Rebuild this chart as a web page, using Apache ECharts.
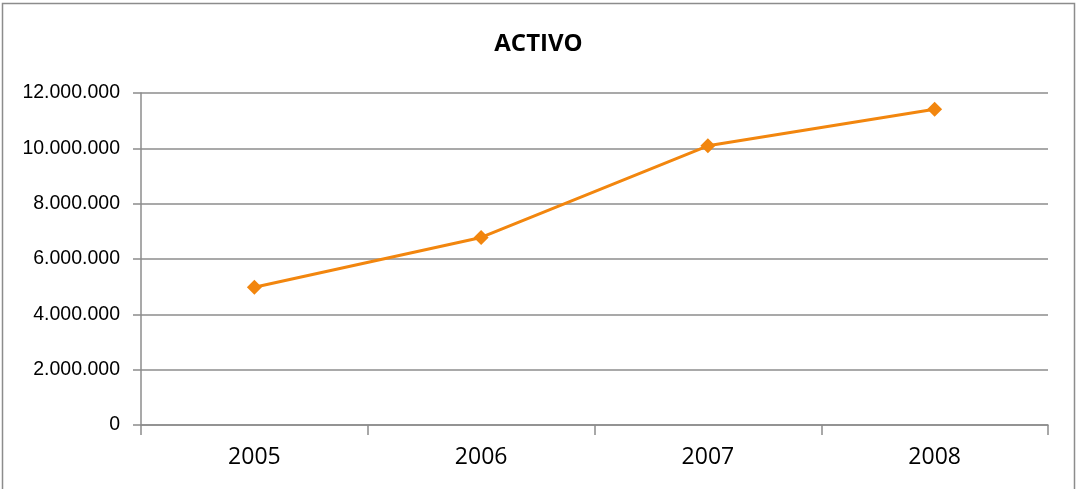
<!DOCTYPE html>
<html><head><meta charset="utf-8">
<script src="https://cdn.jsdelivr.net/npm/echarts@6/dist/echarts.min.js"></script>
<style>html,body{margin:0;padding:0;background:#fff}#c{width:1077px;height:489px}</style>
</head><body><div id="c"></div>
<script>
const categories = ['2005', '2006', '2007', '2008'];
const activo = [4980000, 6780000, 10090000, 11410000];
const yTicks = [0, 2000000, 4000000, 6000000, 8000000, 10000000, 12000000];

function fmt(v){ return String(v).replace(/\B(?=(\d{3})+(?!\d))/g, '.'); }

const chart = echarts.init(document.getElementById('c'), null, {renderer:'canvas'});
chart.setOption({
  animation:false,
  backgroundColor:'#fff',
  title:{text:'ACTIVO', left:'center', top:27, textStyle:{fontFamily:'Open Sans', fontWeight:'bold', fontSize:24, color:'#000'}},
  graphic:[{type:'rect', shape:{x:2.5,y:3.5,width:1072,height:490}, style:{fill:'none', stroke:'#8c8c8c', lineWidth:1.5}, silent:true}],
  grid:{left:141, right:29, top:93, bottom:64},
  xAxis:{type:'category', data:categories, boundaryGap:true,
    axisLine:{lineStyle:{color:'#8c8c8c', width:1.5}},
    axisTick:{show:true, length:10, lineStyle:{color:'#8c8c8c', width:1.5}},
    axisLabel:{fontFamily:'Open Sans', fontSize:23, color:'#000', margin:21}},
  yAxis:{type:'value', min:yTicks[0], max:yTicks[yTicks.length-1], interval:yTicks[1]-yTicks[0],
    axisLine:{show:true, lineStyle:{color:'#8c8c8c', width:1.5}},
    axisTick:{show:true, length:8, lineStyle:{color:'#8c8c8c', width:1.5}},
    splitLine:{lineStyle:{color:'#8c8c8c', width:1.5}},
    axisLabel:{fontFamily:'Liberation Sans', fontSize:19.5, color:'#000', margin:21, formatter:fmt}},
  series:[{type:'line', data:activo, symbol:'diamond', symbolSize:15,
    lineStyle:{color:'#F2860E', width:3}, itemStyle:{color:'#F2860E'}}]
});
</script></body></html>
